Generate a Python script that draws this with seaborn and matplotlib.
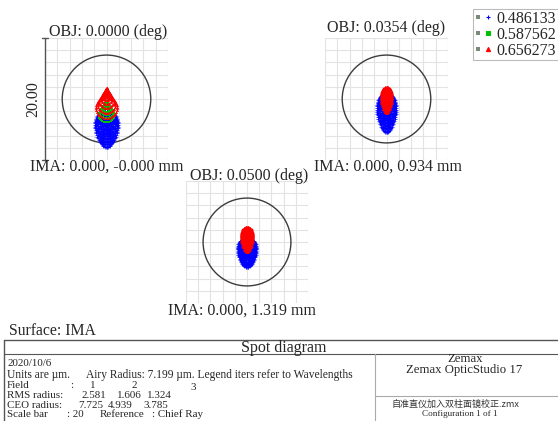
import numpy as np
import pandas as pd
import matplotlib
matplotlib.use("Agg")
import matplotlib.pyplot as plt
from matplotlib.lines import Line2D
from matplotlib.patches import Circle
from matplotlib.legend_handler import HandlerTuple
import seaborn as sns

# ---------------- data ----------------
fields = ["0.0000", "0.0354", "0.0500"]
ima_labels = ["IMA: 0.000, -0.000 mm", "IMA: 0.000, 0.934 mm", "IMA: 0.000, 1.319 mm"]
wavelengths = ["0.486133", "0.587562", "0.656273"]
wave_colors = ["#0000ff", "#00c000", "#ff0000"]
wave_markers = ["+", "s", "^"]
airy_radius = 7.199          # um
scale_bar = 20.0             # um
# spot extents (um), order [blue, green, red]
spot_top = {
    "0.0000": [-2.0, -0.3, 1.8],
    "0.0354": [0.9, 1.0, 2.0],
    "0.0500": [0.6, 1.5, 2.5],
}
spot_bottom = {
    "0.0000": [-7.9, -3.8, -3.1],
    "0.0354": [-5.4, -1.5, -2.3],
    "0.0500": [-4.1, -1.0, -1.6],
}
spot_halfwidth = {
    "0.0000": [1.8, 1.3, 1.75],
    "0.0354": [1.5, 0.6, 0.9],
    "0.0500": [1.5, 0.6, 1.0],
}
# "comet": pointed top, nested rings opening downward; "stack": egg of nested rings
spot_kind = {
    "0.0000": ["stack", "comet", "comet"],
    "0.0354": ["stack", "stack", "stack"],
    "0.0500": ["stack", "stack", "stack"],
}
pupil_rings = 11
info_rms = ["2.581", "1.606", "1.324"]
info_geo = ["7.725", "4.939", "3.785"]

# ---------- hexapolar pupil sampling -> ray intercepts ----------
def spot_rays(top, bottom, hw, kind):
    xs, ys = [], []
    for k in range(0, pupil_rings + 1):
        rho = k / pupil_rings
        n = max(1, 6 * k)
        th = np.arange(n) * 2 * np.pi / n
        if kind == "comet":
            b = (top - bottom) / 3.0
            xs.extend(hw * rho**2 * np.sin(2 * th))
            ys.extend(top - b * rho**2 * (2 + np.cos(2 * th)))
        else:
            v = (top - bottom) / 2.0
            yc = (top + bottom) / 2.0
            shift = 0.4 * v
            xs.extend(hw * rho * np.sin(th) * (1 + 0.25 * np.cos(th)))
            ys.extend(yc + v * rho * np.cos(th) + shift * (1 - rho**2))
    return np.array(xs), np.array(ys)

rows = []
for f in fields:
    for wi, w in enumerate(wavelengths):
        x, y = spot_rays(spot_top[f][wi], spot_bottom[f][wi],
                         spot_halfwidth[f][wi], spot_kind[f][wi])
        for xi, yi in zip(x, y):
            rows.append({"field": f, "wave": w, "x": xi, "y": yi})
df = pd.DataFrame(rows)

# ---------------- figure ----------------
sns.set_theme(style="white")
serif = ["Liberation Serif", "DejaVu Serif"]
plt.rcParams["font.family"] = serif

W, H = 558, 421
fig = plt.figure(figsize=(W / 100, H / 100), dpi=100)

def px_axes(x0, y0, x1, y1):
    return fig.add_axes([x0 / W, 1 - y1 / H, (x1 - x0) / W, (y1 - y0) / H])

panel_boxes = [(45, 38, 168, 160), (325, 38, 448, 160), (186, 181, 308, 303)]
half = scale_bar / 2
for f, box in zip(fields, panel_boxes):
    ax = px_axes(*box)
    for g in np.arange(-half, half + 0.01, 2.0):
        ax.axvline(g, color="#e3e3e3", lw=0.8, zorder=0)
        ax.axhline(g, color="#e3e3e3", lw=0.8, zorder=0)
    ax.add_patch(Circle((0, 0), airy_radius, fill=False, ec="#3c3c3c", lw=1.0, zorder=1))
    sub = df[df["field"] == f]
    for w, c, m in zip(wavelengths, wave_colors, wave_markers):
        d = sub[sub["wave"] == w]
        if m == "+":
            sns.scatterplot(data=d, x="x", y="y", ax=ax, color=c, marker=m,
                            s=6, linewidth=0.5, zorder=2, legend=False)
        else:
            sns.scatterplot(data=d, x="x", y="y", ax=ax, color=c, marker=m,
                            s=3.5, linewidth=0, zorder=2, legend=False)
    ax.set_xlim(-half, half)
    ax.set_ylim(-half, half)
    ax.set_xticks([]); ax.set_yticks([])
    ax.set_xlabel(""); ax.set_ylabel("")
    for s in ax.spines.values():
        s.set_visible(False)

ov2 = fig.add_axes([0, 0, 1, 1], zorder=5)
ov2.set_xlim(0, W); ov2.set_ylim(H, 0); ov2.axis("off")
ov2.patch.set_alpha(0)

fs = 11.5
obj_pos = [(108, 32), (386, 28), (249, 176)]
ima_pos = [(107, 167), (388, 167), (242, 311)]
for f, p in zip(fields, obj_pos):
    ov2.text(p[0], p[1], f"OBJ: {f} (deg)", ha="center", va="center", fontsize=fs)
for t, p in zip(ima_labels, ima_pos):
    ov2.text(p[0], p[1], t, ha="center", va="center", fontsize=fs)

# scale bar
ov2.plot([45, 45], [38, 160], color="#555555", lw=1.0)
ov2.plot([42, 48], [38, 38], color="#555555", lw=1.0)
ov2.plot([42, 48], [160, 160], color="#555555", lw=1.0)
ov2.text(33, 99, f"{scale_bar:.2f}", rotation=90, ha="center", va="center", fontsize=fs)

# legend
handles = [(Line2D([], [], ls="none", marker="s", color="#7a8a7a", markersize=3.5, mew=0),
            Line2D([], [], ls="none", marker=m, color=c, markersize=3, mew=0.8))
           for c, m in zip(wave_colors, wave_markers)]
leg = fig.legend(handles, wavelengths, loc="upper right", bbox_to_anchor=(1.0, 1 - 9 / H),
                 frameon=True, fancybox=False, fontsize=fs, handlelength=1.1,
                 handletextpad=0.3, borderpad=0.1, labelspacing=0.0,
                 borderaxespad=0.0,
                 handler_map={tuple: HandlerTuple(ndivide=None, pad=0.1)})
leg.get_frame().set_edgecolor("#aaaaaa")
leg.get_frame().set_linewidth(0.8)

# bottom info block
ov2.text(9, 331, "Surface: IMA", ha="left", va="center", fontsize=11.3)
lc = "#555555"
ov2.plot([4, 558], [340, 340], color=lc, lw=1.0)
ov2.plot([4, 558], [354, 354], color=lc, lw=0.8)
ov2.plot([4, 4], [340, 421], color=lc, lw=1.0)
ov2.plot([375, 375], [354, 421], color="#aaaaaa", lw=0.8)
ov2.plot([375, 558], [396, 396], color="#aaaaaa", lw=0.8)
ov2.text(284, 347.5, "Spot diagram", ha="center", va="center", fontsize=11.5)

sfs = 7.9
ov2.text(7, 364, "2020/10/6", ha="left", va="center", fontsize=sfs)
ov2.text(7, 375, "Units are µm.", ha="left", va="center", fontsize=8.3)
ov2.text(86, 375, f"Airy Radius: {airy_radius:.3f} µm. Legend iters refer to Wavelengths",
         ha="left", va="center", fontsize=8.3)
ov2.text(7, 385.5, "Field", ha="left", va="center", fontsize=sfs)
ov2.text(70, 385.5, ":", ha="left", va="center", fontsize=sfs)
for x, t, yy in zip([90, 132, 190], ["1", "2", "3"], [385.5, 385.5, 387]):
    ov2.text(x, yy, t, ha="left", va="center", fontsize=sfs)
ov2.text(7, 395.5, "RMS radius:", ha="left", va="center", fontsize=sfs)
for x, t in zip([82, 117, 147], info_rms):
    ov2.text(x, 395.5, t, ha="left", va="center", fontsize=sfs)
ov2.text(7, 405, "CEO radius:", ha="left", va="center", fontsize=sfs)
for x, t in zip([78, 108, 143], info_geo):
    ov2.text(x, 405, t, ha="left", va="center", fontsize=sfs)
ov2.text(7, 414.5, "Scale bar", ha="left", va="center", fontsize=sfs)
ov2.text(67, 414.5, f": {scale_bar:.0f}", ha="left", va="center", fontsize=sfs)
ov2.text(100, 414.5, "Reference", ha="left", va="center", fontsize=sfs)
ov2.text(152, 414.5, ": Chief Ray", ha="left", va="center", fontsize=sfs)

ov2.text(465, 358.5, "Zemax", ha="center", va="center", fontsize=9.2)
ov2.text(464, 370.5, "Zemax OpticStudio 17", ha="center", va="center", fontsize=9.2)
ov2.text(455, 404, "自准直仪加入双柱面镜校正.zmx", ha="center", va="center", fontsize=6.5,
         family=["Noto Sans CJK SC", "DejaVu Sans"], color="#333333")
ov2.text(460, 414.5, "Configuration 1 of 1", ha="center", va="center", fontsize=6.6)

fig.savefig("out.png", dpi=100)
